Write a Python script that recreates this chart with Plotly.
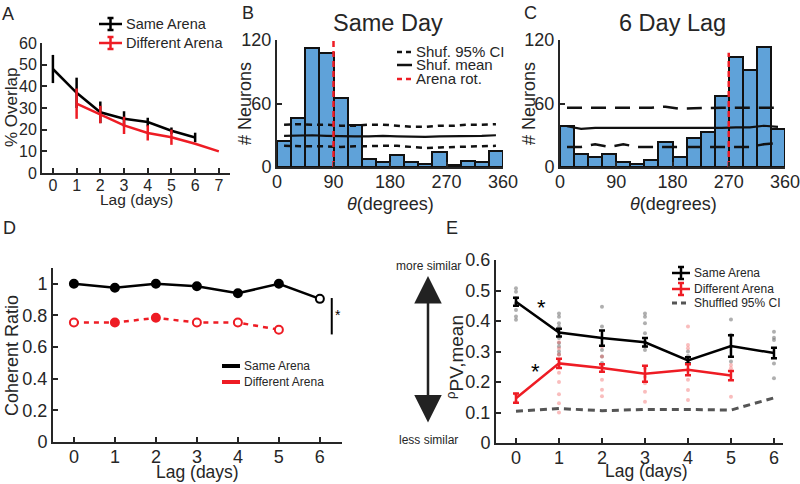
import plotly.graph_objects as go

W, H = 800, 484
FONT = "Liberation Sans, Arial, sans-serif"
INK = "#262626"
RED = "#ee1c24"
BLUE = "#5fa2d9"

# ---- panel A: % overlap vs lag
a_lag_same = [0, 1, 2, 3, 4, 5, 6]
a_same = [48, 37, 28, 25, 23.5, 19.5, 16.4]
a_same_err = [6.5, 7, 5, 3.5, 2, 1.5, 2.2]
a_lag_diff = [1, 2, 3, 4, 5, 6, 7]
a_diff = [32, 27, 22, 18.5, 16.5, 13.5, 10]
a_diff_err = [7, 4, 4, 3.5, 3.5, 0, 0]

# ---- panels B / C: rotation histograms (22.5 deg bins)
theta_bins = [11.25, 33.75, 56.25, 78.75, 101.25, 123.75, 146.25, 168.75,
              191.25, 213.75, 236.25, 258.75, 281.25, 303.75, 326.25, 348.75]
b_counts = [25, 46, 112, 108, 65, 40, 8, 4.5, 11.5, 5, 3.3, 14, 1.9, 5.5, 5, 15.5]
b_ci_hi = [40, 40.5, 40, 40, 39, 39, 40, 40, 39, 38, 38, 39, 39, 40, 40, 40.5]
b_mean = [29.5, 30, 30, 29.5, 29, 29, 29, 29.5, 29, 28.5, 28.5, 29, 29, 29.5, 29.5, 30]
b_ci_lo = [20, 19.5, 19.5, 19.5, 19, 19.5, 20, 20, 20, 19, 18, 18.5, 19, 19.5, 20, 20]
b_rot = 90
c_counts = [39, 12, 9, 12, 4.5, 2.5, 7, 24, 9.5, 27, 33, 67, 104, 92, 113, 36]
c_ci_hi = [56, 56, 56, 56, 56, 55.5, 56, 57, 55, 55.5, 56, 56, 56, 56, 56.5, 56]
c_mean = [38.5, 36, 37, 37, 37, 37, 37, 37, 37, 36.5, 37, 37, 37.5, 37.5, 39, 38]
c_ci_lo = [19, 19, 21.5, 19, 21.5, 19, 19, 19, 19, 19, 19, 19, 19, 19, 21.5, 22.5]
c_rot = 270

# ---- panel D: coherent ratio
d_lag_same = [0, 1, 2, 3, 4, 5, 6]
d_same = [1.0, 0.975, 1.0, 0.985, 0.94, 1.0, 0.905]
d_same_fill = [1, 1, 1, 1, 1, 1, 0]
d_lag_diff = [0, 1, 2, 3, 4, 5]
d_diff = [0.755, 0.755, 0.785, 0.755, 0.755, 0.71]
d_diff_fill = [0, 1, 1, 0, 0, 0]

# ---- panel E: PV correlation
e_lag = [0, 1, 2, 3, 4, 5, 6]
e_same = [0.463, 0.362, 0.344, 0.33, 0.271, 0.318, 0.295]
e_same_err = [0.013, 0.013, 0.025, 0.014, 0.01, 0.035, 0.017]
e_diff = [0.147, 0.261, 0.246, 0.227, 0.24, 0.221]
e_diff_err = [0.015, 0.015, 0.012, 0.026, 0.018, 0.015]
e_shuf = [0.104, 0.113, 0.106, 0.11, 0.11, 0.108, 0.148]
e_same_pts = [
    [0.507, 0.496, 0.475, 0.458, 0.436, 0.415, 0.404],
    [0.425, 0.414, 0.393, 0.381, 0.36, 0.344, 0.328, 0.316, 0.30, 0.29],
    [0.447, 0.382, 0.344, 0.305, 0.284, 0.262],
    [0.425, 0.414, 0.393, 0.36, 0.33, 0.316, 0.305],
    [0.30, 0.285, 0.265],
    [0.405, 0.355, 0.316, 0.267],
    [0.365, 0.345, 0.338, 0.261, 0.212],
]
e_diff_pts = [
    [0.16, 0.135],
    [0.33, 0.31, 0.29, 0.27, 0.25, 0.23, 0.2, 0.16, 0.13, 0.1],
    [0.316, 0.284, 0.251, 0.207, 0.175, 0.153],
    [0.245, 0.217, 0.196, 0.168, 0.135],
    [0.382, 0.321, 0.311, 0.24, 0.207, 0.174, 0.141],
    [0.256, 0.245, 0.152],
]


def px(x):
    return x / W


def py(y):
    return 1 - y / H


fig = go.Figure()

# A
fig.add_trace(go.Scatter(x=a_lag_same, y=a_same, mode="lines", line=dict(color="black", width=2.5),
                         error_y=dict(array=a_same_err, color="black", thickness=2.5, width=0),
                         xaxis="x", yaxis="y"))
fig.add_trace(go.Scatter(x=a_lag_diff, y=a_diff, mode="lines", line=dict(color=RED, width=2.5),
                         error_y=dict(array=a_diff_err, color=RED, thickness=2.5, width=0),
                         xaxis="x", yaxis="y"))

# B and C
for counts, hi, mn, lo, rot, rtop, dash, ax in [
    (b_counts, b_ci_hi, b_mean, b_ci_lo, b_rot, 120, "6px,5px", "2"),
    (c_counts, c_ci_hi, c_mean, c_ci_lo, c_rot, 108, "15px,9px", "3"),
]:
    xa, ya = "x" + ax, "y" + ax
    fig.add_trace(go.Bar(x=theta_bins, y=counts, width=22.5, marker=dict(color=BLUE, line=dict(color="#111", width=2)),
                         xaxis=xa, yaxis=ya))
    fig.add_trace(go.Scatter(x=theta_bins, y=hi, mode="lines", line=dict(color="#111", width=2.5, dash=dash),
                             xaxis=xa, yaxis=ya))
    fig.add_trace(go.Scatter(x=theta_bins, y=mn, mode="lines", line=dict(color="#111", width=2.2),
                             xaxis=xa, yaxis=ya))
    fig.add_trace(go.Scatter(x=theta_bins, y=lo, mode="lines", line=dict(color="#111", width=2.5, dash=dash),
                             xaxis=xa, yaxis=ya))
    fig.add_trace(go.Scatter(x=[rot, rot], y=[0, rtop], mode="lines", line=dict(color=RED, width=2.5, dash="6px,4px"),
                             xaxis=xa, yaxis=ya))

# D
fig.add_trace(go.Scatter(x=d_lag_same, y=d_same, mode="lines+markers", line=dict(color="black", width=2.5),
                         marker=dict(size=8, color=["black" if f else "white" for f in d_same_fill],
                                     line=dict(color="black", width=2)),
                         xaxis="x4", yaxis="y4"))
fig.add_trace(go.Scatter(x=d_lag_diff, y=d_diff, mode="lines+markers", line=dict(color=RED, width=2.5, dash="5px,5px"),
                         marker=dict(size=8, color=[RED if f else "white" for f in d_diff_fill],
                                     line=dict(color=RED, width=2)),
                         xaxis="x4", yaxis="y4"))

# E
for lag, pts in enumerate(e_same_pts):
    fig.add_trace(go.Scatter(x=[lag] * len(pts), y=pts, mode="markers",
                             marker=dict(size=4, color="rgba(110,110,110,0.55)"), xaxis="x5", yaxis="y5"))
for lag, pts in enumerate(e_diff_pts):
    fig.add_trace(go.Scatter(x=[lag] * len(pts), y=pts, mode="markers",
                             marker=dict(size=4, color="rgba(240,90,90,0.4)"), xaxis="x5", yaxis="y5"))
fig.add_trace(go.Scatter(x=e_lag, y=e_shuf, mode="lines", line=dict(color="#555", width=3, dash="7px,5px"),
                         xaxis="x5", yaxis="y5"))
fig.add_trace(go.Scatter(x=e_lag, y=e_same, mode="lines", line=dict(color="black", width=2.5),
                         error_y=dict(array=e_same_err, color="black", thickness=2.5, width=3),
                         xaxis="x5", yaxis="y5"))
fig.add_trace(go.Scatter(x=e_lag[:len(e_diff)], y=e_diff, mode="lines", line=dict(color=RED, width=2.5),
                         error_y=dict(array=e_diff_err, color=RED, thickness=2.5, width=3),
                         xaxis="x5", yaxis="y5"))


def axis(x0, x1, y0, y1, xr, yr, xticks, yticks, size, ylabels=None):
    common = dict(showline=True, linecolor=INK, linewidth=2, ticks="inside", ticklen=5, tickwidth=2,
                  tickcolor=INK, showgrid=False, zeroline=False, automargin=False,
                  ticklabeloverflow="allow", tickfont=dict(size=size, color=INK))
    xa = dict(common, domain=[px(x0), px(x1)], range=xr, tickvals=xticks, ticklabelstandoff=-3)
    ya = dict(common, domain=[py(y1), py(y0)], range=yr, tickvals=yticks)
    if ylabels:
        ya["ticktext"] = ylabels
    return xa, ya


ax_a = axis(42, 230, 43, 173, [-0.46, 7.47], [0, 60], list(range(8)), list(range(0, 61, 10)), 16)
ax_b = axis(277, 503, 40, 167, [0, 360], [0, 120], [0, 90, 180, 270, 360], [0, 60, 120], 18)
ax_c = axis(560, 785, 40, 167, [0, 360], [0, 120], [0, 90, 180, 270, 360], [0, 60, 120], 18)
ax_d = axis(53, 342, 268, 442, [-0.51, 6.54], [0, 1.1], list(range(7)), [0, 0.2, 0.4, 0.6, 0.8, 1], 18,
            ["0", "0.2", "0.4", "0.6", "0.8", "1"])
ax_e = axis(496, 783, 260, 443, [-0.465, 6.21], [0, 0.6], list(range(7)), [0, 0.1, 0.2, 0.3, 0.4, 0.5, 0.6], 18,
            ["0", "0.1", "0.2", "0.3", "0.4", "0.5", "0.6"])

fig.update_layout(
    width=W, height=H, margin=dict(l=0, r=0, t=0, b=0),
    paper_bgcolor="white", plot_bgcolor="white", showlegend=False, bargap=0,
    font=dict(family=FONT, color=INK),
    xaxis=dict(ax_a[0], anchor="y"), yaxis=dict(ax_a[1], anchor="x"),
    xaxis2=dict(ax_b[0], anchor="y2"), yaxis2=dict(ax_b[1], anchor="x2"),
    xaxis3=dict(ax_c[0], anchor="y3"), yaxis3=dict(ax_c[1], anchor="x3"),
    xaxis4=dict(ax_d[0], anchor="y4"), yaxis4=dict(ax_d[1], anchor="x4"),
    xaxis5=dict(ax_e[0], anchor="y5"), yaxis5=dict(ax_e[1], anchor="x5"),
)


def text(x, y, s, size, xanchor="center", angle=0, color=INK):
    fig.add_annotation(x=px(x), y=py(y), xref="paper", yref="paper", text=s, showarrow=False,
                       xanchor=xanchor, yanchor="middle", textangle=angle,
                       font=dict(size=size, color=color))


def legend_item(x0, x1, y, label, color, size, width=2.5, dash="solid", ebar=False):
    fig.add_shape(type="line", xref="paper", yref="paper", x0=px(x0), x1=px(x1), y0=py(y), y1=py(y),
                  line=dict(color=color, width=width, dash=dash))
    if ebar:
        xc = (x0 + x1) / 2
        for y0, y1, a, b in [(y - 6, y + 6, xc, xc), (y - 6, y - 6, xc - 3, xc + 3), (y + 6, y + 6, xc - 3, xc + 3)]:
            fig.add_shape(type="line", xref="paper", yref="paper", x0=px(a), x1=px(b), y0=py(y0), y1=py(y1),
                          line=dict(color=color, width=2.5))
    text(x1 + 2, y, label, size, xanchor="left")


# axis titles
text(136, 199, "Lag (days)", 15.5)
text(11, 108, "% Overlap", 17, angle=-90)
text(390, 204, "<i>θ</i>(degrees)", 18)
text(245, 104, "# Neurons", 18, angle=-90)
text(673, 204, "<i>θ</i>(degrees)", 18)
text(529, 104, "# Neurons", 18, angle=-90)
text(197, 472, "Lag (days)", 17.5)
text(12, 356, "Coherent Ratio", 18, angle=-90)
text(646, 471, "Lag (days)", 17.5)
text(455, 357, "<sup>ρ</sup>PV,mean", 19, angle=-90)

# panel letters and titles
for letter, x, y in [("A", 8, 14), ("B", 248, 13), ("C", 530, 13), ("D", 9, 228), ("E", 452, 228)]:
    text(x, y, letter, 18)
text(388, 23, "Same Day", 23.5)
text(672, 23, "6 Day Lag", 23.5)

# legends
legend_item(99, 122, 24, "Same Arena", "black", 14.5, ebar=True)
legend_item(99, 122, 43, "Different Arena", RED, 14.5, ebar=True)
legend_item(397, 412, 52, "Shuf. 95% CI", "#111", 15, dash="5px,4px")
legend_item(397, 412, 65, "Shuf. mean", "#111", 15)
legend_item(397, 412, 79, "Arena rot.", RED, 15, dash="5px,4px")
legend_item(222, 240, 366, "Same Arena", "black", 12, width=4)
legend_item(222, 240, 382, "Different Arena", RED, 12, width=4)
legend_item(672, 690, 273, "Same Arena", "black", 12, ebar=True)
legend_item(672, 690, 289, "Different Arena", RED, 12, ebar=True)
legend_item(672, 690, 303, "Shuffled 95% CI", "#555", 12, width=3, dash="5px,4px")

# significance marks
for xa, ya, x, y in [("x2", "y2", 64, 124), ("x3", "y3", 325, 124), ("x5", "y5", 0.6, 0.445), ("x5", "y5", 0.45, 0.235)]:
    fig.add_annotation(x=x, y=y, xref=xa, yref=ya, text="*", showarrow=False,
                       font=dict(size=16 if xa != "x5" else 22, color="black"))
fig.add_shape(type="line", xref="x4", yref="y4", x0=6.29, x1=6.29, y0=0.68, y1=0.91,
              line=dict(color="black", width=2))
fig.add_annotation(x=6.45, y=0.8, xref="x4", yref="y4", text="*", showarrow=False, font=dict(size=14, color="black"))

# similarity arrow
fig.add_annotation(x=px(428), y=py(276), xref="paper", yref="paper", ax=0, ay=148, axref="pixel", ayref="pixel",
                   showarrow=True, arrowhead=2, arrowside="end+start", arrowsize=2.2, arrowwidth=2.5,
                   arrowcolor="#222", text="")
text(428, 266, "more similar", 12)
text(428, 440, "less similar", 12)

# page has a default 8px body margin; drop it so the figure sits at the top-left corner
fig.write_html("out.html", config={"displayModeBar": False},
               post_script="document.body.style.margin='0';")
